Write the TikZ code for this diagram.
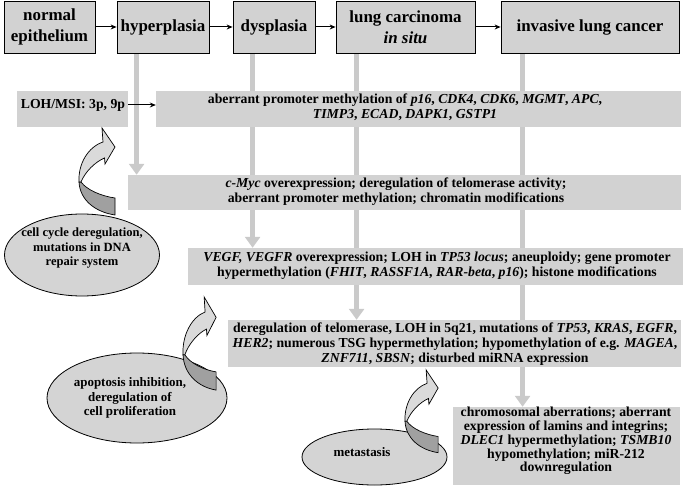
\documentclass[tikz,border=0pt]{standalone}
\usepackage{fontspec}
\setmainfont{Liberation Serif}
\usetikzlibrary{arrows.meta,shapes.geometric}
\definecolor{boxgray}{RGB}{210,210,210}
\definecolor{linegray}{RGB}{202,202,202}
\definecolor{ellgray}{RGB}{212,212,212}
\definecolor{arrlight}{RGB}{218,218,218}
\definecolor{arrdark}{RGB}{160,160,160}
\pgfdeclarelayer{bg}
\pgfsetlayers{bg,main}
\tikzset{
  hdr/.style={draw=black, line width=0.8bp, fill=boxgray, inner sep=0pt, align=center,
    font=\fontsize{17}{21}\selectfont\bfseries},
  bodybox/.style={fill=boxgray, inner sep=0pt},
  txt/.style={align=center, inner sep=0pt, font=\fontsize{13.8}{14.8}\selectfont\bfseries},
  elltxt/.style={align=center, inner sep=0pt, font=\fontsize{13}{14.5}\selectfont\bfseries},
  vline/.style={draw=linegray, line width=5bp, -{Triangle[width=15bp,length=11bp]}},
  harrow/.style={-{Stealth[length=6bp,width=5bp]}, line width=1bp},
  ell/.style={ellipse, draw=black, line width=0.8bp, fill=ellgray, inner sep=0pt},
  curvarr/.pic={
    \filldraw[fill=arrdark, draw=black, line width=0.7bp]
      (0,54) .. controls (1,72) and (16,84) .. (36,87) -- (36,70)
      .. controls (22,68) and (8,62) .. (2,54) -- cycle;
    \filldraw[fill=arrlight, draw=black, line width=0.7bp]
      (0,54) .. controls (-1,36) and (9,19) .. (24,14) -- (23,0) -- (36,19)
      -- (26,36) -- (25.5,30) .. controls (16,34) and (6,44) .. (2,54) -- cycle;
  }
}
\begin{document}
\begin{tikzpicture}[x=1bp,y=-1bp]
\useasboundingbox (0,0) rectangle (685,487);

% header boxes
\node[hdr, minimum width=91bp, minimum height=52bp] (norm) at (49.5,27) {normal\\epithelium};
\node[hdr, minimum width=92bp, minimum height=52bp] (hyper) at (163,27) {hyperplasia};
\node[hdr, minimum width=82bp, minimum height=52bp] (dys) at (274,27) {dysplasia};
\node[hdr, minimum width=139bp, minimum height=52bp] (lung) at (405.5,27) {lung carcinoma\\\textit{in situ}};
\node[hdr, minimum width=178bp, minimum height=52bp] (inv) at (590,27) {invasive lung cancer};

\draw[harrow] (norm) -- (hyper);
\draw[harrow] (hyper) -- (dys);
\draw[harrow] (dys) -- (lung);
\draw[harrow] (lung) -- (inv);

% body boxes
\node[bodybox, minimum width=111bp, minimum height=36bp] (loh) at (72.5,109) {};
\node[bodybox, minimum width=525bp, minimum height=36bp] (aberr) at (418.5,109) {};
\node[bodybox, minimum width=553bp, minimum height=35bp] (myc) at (404.5,192.5) {};
\node[bodybox, minimum width=495bp, minimum height=37bp] (vegf) at (435.5,266.5) {};
\node[bodybox, minimum width=453bp, minimum height=47bp] (lungbox) at (454.5,343.5) {};
\node[bodybox, minimum width=227bp, minimum height=78bp] (bot) at (566.5,446) {};

\node[txt] (lohtxt) at (73,105) {LOH/MSI: 3p, 9p};
\node[txt] (abertxt) at (405,107) {aberrant promoter methylation of \textit{p16}, \textit{CDK4}, \textit{CDK6}, \textit{MGMT}, \textit{APC},\\\textit{TIMP3}, \textit{ECAD}, \textit{DAPK1}, \textit{GSTP1}};
\node[txt] (myctxt) at (396,192) {\textit{c-Myc} overexpression;\ deregulation of telomerase activity;\\aberrant promoter methylation; chromatin modifications};
\node[txt] (vegftxt) at (437,266) {\textit{VEGF, VEGFR} overexpression;\ LOH in \textit{TP53 locus}; aneuploidy;\ gene promoter\\hypermethylation (\textit{FHIT}, \textit{RASSF1A}, \textit{RAR-beta}, \textit{p16}); histone modifications};
\node[txt] (lungtxt) at (455,344) {deregulation of telomerase, LOH in 5q21, mutations of \textit{TP53}, \textit{KRAS}, \textit{EGFR},\\\textit{HER2}; numerous TSG hypermethylation; hypomethylation of e.g. \textit{MAGEA},\\\textit{ZNF711}, \textit{SBSN}; disturbed miRNA expression};
\node[txt, font=\fontsize{13.8}{13.8}\selectfont\bfseries] (bottxt) at (566,441) {chromosomal aberrations; aberrant\\expression of lamins and integrins;\\\textit{DLEC1} hypermethylation; \textit{TSMB10}\\hypomethylation; miR-212\\downregulation};

\draw[harrow] (lohtxt.east -| loh.east) -- (lohtxt.east -| aberr.west);

% vertical gray connectors
\begin{pgfonlayer}{bg}
\draw[vline] ([xshift=20bp]hyper.south west) -- ([xshift=20bp]hyper.south west |- myc.north);
\draw[vline] ([xshift=20bp]dys.south west) -- ([xshift=20bp]dys.south west |- vegf.north);
\draw[vline] ([xshift=21bp]lung.south west) -- ([xshift=21bp]lung.south west |- lungbox.north);
\draw[vline] ([xshift=22bp]inv.south west) -- ([xshift=22bp]inv.south west |- bot.north);
\end{pgfonlayer}

% ellipses
\node[ell, minimum width=155bp, minimum height=82bp] (e1) at (82,255) {};
\node[elltxt, font=\fontsize{12.6}{14.5}\selectfont\bfseries] (e1txt) at (82,248) {cell cycle deregulation,\\mutations in DNA\\repair system};
\node[ell, minimum width=180bp, minimum height=90bp] (e2) at (137,398) {};
\node[elltxt] (e2txt) at (130,398) {apoptosis inhibition,\\deregulation of\\cell proliferation};
\node[ell, minimum width=145bp, minimum height=56bp] (e3) at (374.5,457) {};
\node[elltxt] (e3txt) at (362,452) {metastasis};

% curved arrows
\pic at (79,128) {curvarr};
\pic[xscale=0.92, yscale=1.07] at (183,297) {curvarr};
\pic[xscale=0.92, yscale=0.95] at (405,370) {curvarr};
\end{tikzpicture}
\end{document}
